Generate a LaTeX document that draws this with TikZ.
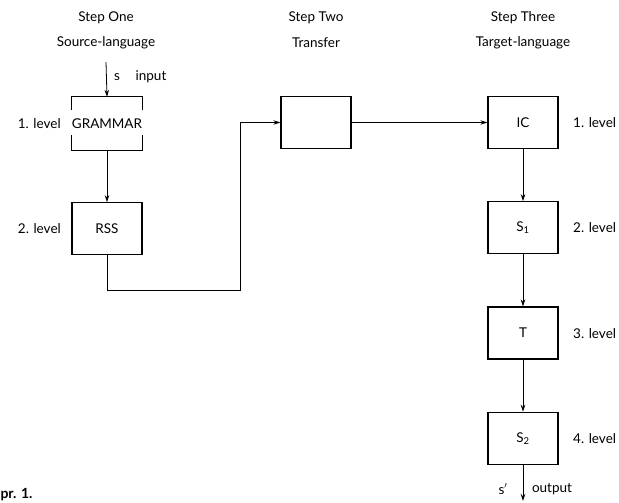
\documentclass[tikz,border=0pt]{standalone}
\usepackage{fontspec}
\setmainfont{Lato}
\usetikzlibrary{arrows.meta,positioning}

\begin{document}
\begin{tikzpicture}[x=1pt, y=-1pt, node distance=52pt,
    box/.style = {draw, line width=1.3pt, minimum width=70pt, minimum height=52pt, inner sep=0pt},
    lbl/.style = {font=\fontsize{13.5}{15}\selectfont},
    conn/.style = {line width=0.8pt}]
  \useasboundingbox (0,0) rectangle (619,503);
  % headings
  \node[lbl] (one) at (106,18) {Step One};
  \node[lbl] (src) at (106,43) {Source-language};
  \node[lbl] (two) at (316,18) {Step Two};
  \node[lbl] (tra) at (316,43) {Transfer};
  \node[lbl] (three) at (523,18) {Step Three};
  \node[lbl] (tgt) at (523,43) {Target-language};
  % source side
  \node[box, draw=none, lbl] (gram) at (107,123.5) {GRAMMAR};
  \node[box, lbl] (rss) [below=of gram] {RSS};
  \draw[line width=1.3pt] ([yshift=-13pt]gram.north west) |- (gram.north east) -- ++(0,13);
  \draw[line width=1.3pt] ([yshift=15pt]gram.south west) |- (gram.south east) -- ++(0,-15);
  \node[lbl] (lv1) [left=7pt of gram] {1. level};
  \node[lbl] (lv2) [left=7pt of rss] {2. level};
  % transfer
  \node[box] (tr) at (316,122.5) {};
  % target side
  \node[box, lbl] (ic) at (523,122.5) {IC};
  \node[box, lbl] (s1) [below=of ic] {S\textsubscript{1}};
  \node[box, lbl] (t) [below=of s1] {T};
  \node[box, lbl] (s2) [below=of t] {S\textsubscript{2}};
  \node[lbl] (rv1) [right=11pt of ic] {1. level};
  \node[lbl] (rv2) [right=11pt of s1] {2. level};
  \node[lbl] (rv3) [right=11pt of t] {3. level};
  \node[lbl] (rv4) [right=11pt of s2] {4. level};
  % input / output
  \coordinate (in) at (106,62);
  \coordinate (out) at (523,501);
  \coordinate (turn) at (240,290);
  \node[lbl] (s) at (117,77) {s};
  \node[lbl] (inp) at (151,77) {input};
  \node[lbl] (sp) at (503,489) {s$'$};
  \node[lbl] (outp) at (552,489) {output};
  \node[lbl, font=\fontsize{14}{15}\bfseries, anchor=west] (fig) at (-3,495) {pr. 1.};
  % connectors
  \draw[conn, -{Stealth[length=7pt,width=4.5pt]}] (in) -- (gram.north);
  \draw[conn, -{Stealth[length=7pt,width=4.5pt]}] (gram.south) -- (rss.north);
  \draw[conn, -{Stealth[length=7pt,width=4.5pt]}] (rss.south) |- (turn) |- (tr.west);
  \draw[conn, -{Stealth[length=7pt,width=4.5pt]}] (tr.east) -- (ic.west);
  \draw[conn, -{Stealth[length=7pt,width=4.5pt]}] (ic) -- (s1);
  \draw[conn, -{Stealth[length=7pt,width=4.5pt]}] (s1) -- (t);
  \draw[conn, -{Stealth[length=7pt,width=4.5pt]}] (t) -- (s2);
  \draw[conn, -{Stealth[length=7pt,width=4.5pt]}] (s2) -- (out);
\end{tikzpicture}
\end{document}
